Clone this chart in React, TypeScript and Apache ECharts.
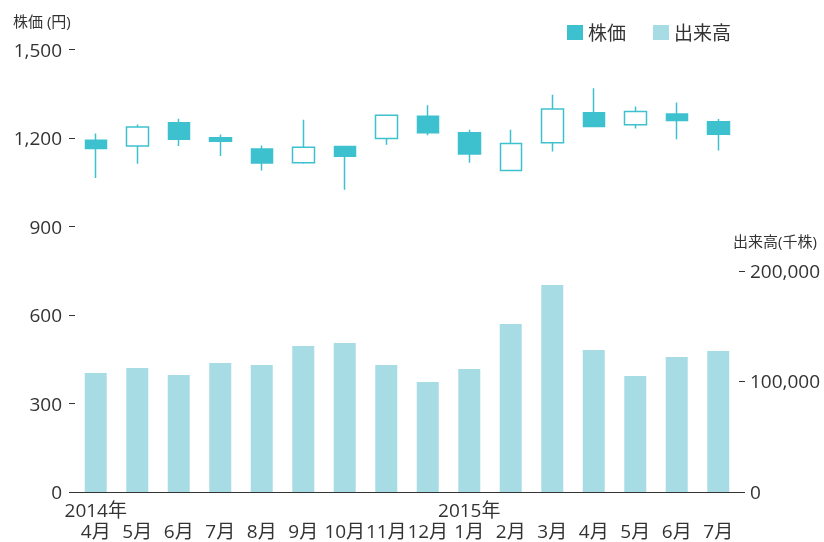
import React, { useEffect, useRef } from "react";
import * as echarts from "echarts";

const months = ["4月", "5月", "6月", "7月", "8月", "9月", "10月", "11月", "12月", "1月", "2月", "3月", "4月", "5月", "6月", "7月"];
const years = ["2014年", "", "", "", "", "", "", "", "", "2015年", "", "", "", "", "", ""];

// [open, close, low, high]
const prices = [
  [1192, 1164, 1064, 1215],
  [1173, 1237, 1113, 1246],
  [1252, 1196, 1173, 1265],
  [1201, 1189, 1139, 1212],
  [1163, 1115, 1090, 1175],
  [1116, 1169, 1113, 1262],
  [1171, 1138, 1025, 1173],
  [1198, 1277, 1177, 1278],
  [1274, 1218, 1209, 1311],
  [1218, 1146, 1116, 1228],
  [1090, 1181, 1087, 1228],
  [1184, 1298, 1154, 1347],
  [1286, 1239, 1237, 1369],
  [1245, 1290, 1232, 1307],
  [1281, 1259, 1196, 1320],
  [1255, 1213, 1158, 1264],
];

const volumes = [107600, 112100, 105800, 116600, 114800, 132000, 134700, 114800, 99500, 111200, 151900, 187200, 128400, 104900, 122100, 127500];

const leftTicks = [0, 300, 600, 900, 1200, 1500];
const rightTicks = [0, 100000, 200000];

const FONT = "'Open Sans', 'Noto Sans CJK JP', sans-serif";
const TEXT = "#333";
const CANDLE = "#3ec1ce";
const BAR = "#a7dce5";

function fmt(v: number) {
  return v.toLocaleString("en-US");
}

export default function App() {
  const ref = useRef<HTMLDivElement>(null);
  useEffect(() => {
    if (!ref.current) return;
    const chart = echarts.init(ref.current, undefined, { renderer: "svg" });
    chart.setOption({
      animation: false,
      textStyle: { fontFamily: FONT },
      grid: { left: 75, right: 85, top: 49.5, bottom: 50 },
      legend: {
        right: 88,
        top: 18,
        icon: "rect",
        itemWidth: 16,
        itemHeight: 15,
        itemGap: 27,
        textStyle: { fontSize: 19, color: TEXT, fontFamily: FONT },
        data: [
          { name: "株価", itemStyle: { color: CANDLE, borderWidth: 0 } },
          { name: "出来高", itemStyle: { color: BAR, borderWidth: 0 } },
        ],
      },
      graphic: [
        { type: "text", left: 13, top: 13, style: { text: "株価 (円)", fontSize: 15, fill: TEXT, fontFamily: FONT } },
        { type: "text", left: 733, top: 233, style: { text: "出来高(千株)", fontSize: 15, fill: TEXT, fontFamily: FONT } },
      ],
      xAxis: {
        type: "category",
        data: months,
        axisLine: { lineStyle: { color: TEXT, width: 1 } },
        axisTick: { show: false },
        axisLabel: {
          interval: 0,
          margin: 7,
          fontSize: 19,
          lineHeight: 21,
          color: TEXT,
          fontFamily: FONT,
          formatter: (v: string, i: number) => (years[i] ? years[i] : " ") + "\n" + v,
        },
      },
      yAxis: [
        {
          type: "value",
          min: 0,
          max: 1500,
          interval: 300,
          position: "left",
          axisLine: { show: false },
          axisTick: { show: true, length: 6, lineStyle: { color: TEXT }, customValues: leftTicks },
          splitLine: { show: false },
          axisLabel: { margin: 13, fontSize: 19, color: TEXT, fontFamily: FONT, formatter: (v: number) => fmt(v), customValues: leftTicks },
        },
        {
          type: "value",
          min: 0,
          max: 400000,
          interval: 100000,
          position: "right",
          axisLine: { show: false },
          axisTick: { show: true, length: 6, lineStyle: { color: TEXT }, customValues: rightTicks },
          splitLine: { show: false },
          axisLabel: { margin: 11, fontSize: 19, color: TEXT, fontFamily: FONT, formatter: (v: number) => fmt(v), customValues: rightTicks },
        },
      ],
      series: [
        {
          name: "出来高",
          type: "bar",
          yAxisIndex: 1,
          data: volumes,
          barWidth: 22,
          itemStyle: { color: BAR },
          z: 1,
        },
        {
          name: "株価",
          type: "candlestick",
          yAxisIndex: 0,
          data: prices,
          barWidth: 22,
          itemStyle: {
            color: "#ffffff",
            color0: CANDLE,
            borderColor: CANDLE,
            borderColor0: CANDLE,
            borderWidth: 1.5,
          },
          z: 3,
        },
      ],
    });
    return () => chart.dispose();
  }, []);
  return <div ref={ref} style={{ position: "fixed", left: 0, top: 0, width: 824, height: 542 }} />;
}
